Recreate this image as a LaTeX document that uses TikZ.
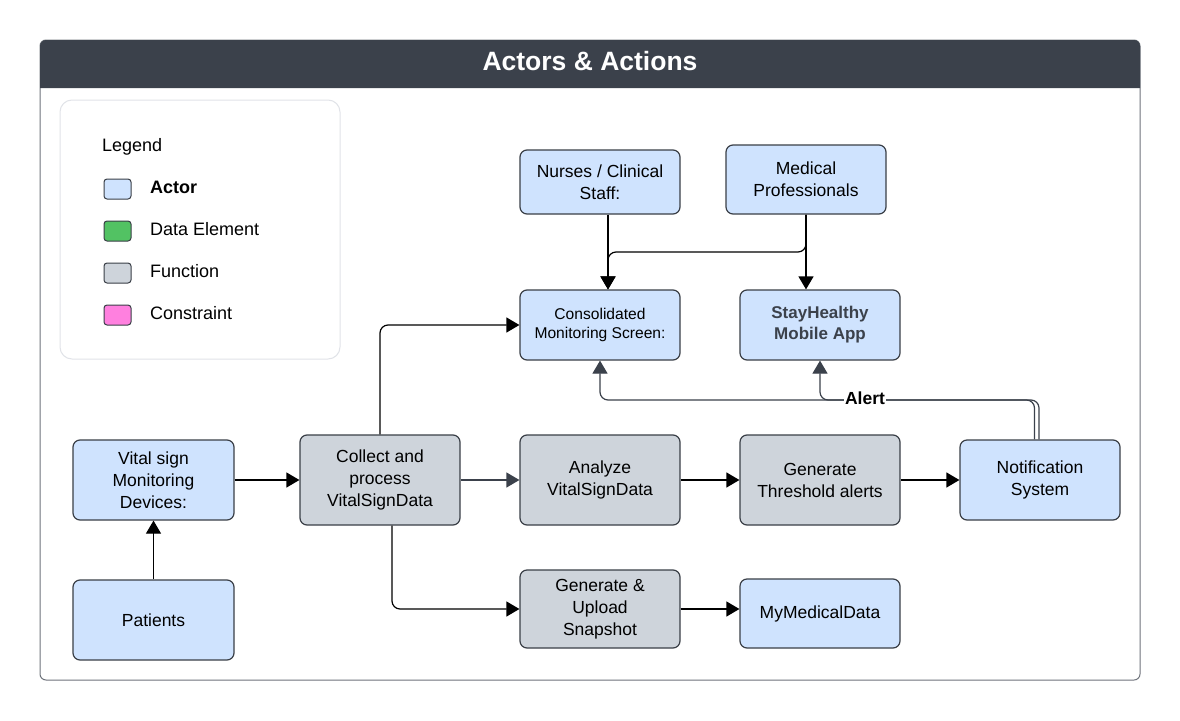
\documentclass[tikz,border=0pt]{standalone}
\usepackage{fontspec}
\setmainfont{Liberation Sans}
\usetikzlibrary{arrows.meta,calc}
\definecolor{hdr}{HTML}{3B414B}
\definecolor{frame}{HTML}{6E737B}
\definecolor{edge}{HTML}{3A3F47}
\definecolor{actorfill}{HTML}{CFE3FE}
\definecolor{funcfill}{HTML}{CED4DB}
\definecolor{datafill}{HTML}{52C263}
\definecolor{consfill}{HTML}{FF80DF}
\definecolor{legedge}{HTML}{E1E3E8}
\begin{document}
\begin{tikzpicture}[x=1pt,y=-1pt,
  box/.style={draw=edge, line width=1.2pt, rounded corners=7pt, align=center, inner sep=0pt,
    font=\fontsize{17.5}{22}\selectfont, text=black},
  actor/.style={box, fill=actorfill},
  func/.style={box, fill=funcfill},
  swatch/.style={draw=edge, line width=1pt, rounded corners=3pt, minimum width=27pt, minimum height=20pt, inner sep=0pt},
  legtext/.style={anchor=west, font=\fontsize{18}{22}\selectfont, inner sep=0pt},
  conn/.style={draw=black, line width=1.2pt, -{Triangle[length=13pt,width=15pt]}, rounded corners=8pt},
  gconn/.style={conn, draw=hdr}]
\useasboundingbox (0,0) rectangle (1180,720);
% frame and header
\draw[frame, line width=1pt, fill=white, rounded corners=6pt] (40,40) rectangle (1140,680);
\fill[hdr] (40,88) [rounded corners=6pt] -- (40,40) -- (1140,40) [sharp corners] -- (1140,88) -- cycle;
\node[text=white, font=\fontsize{26.5}{30}\bfseries] (title) at (590,61) {Actors \& Actions};
% legend
\node[draw=legedge, line width=1pt, rounded corners=12pt, minimum width=280pt, minimum height=259pt, inner sep=0pt] (legend) at (200,229.5) {};
\node[legtext] (legtitle) at (102,146.5) {Legend};
\node[swatch, fill=actorfill] (s1) at (117.5,189) {};
\node[swatch, fill=datafill] (s2) at (117.5,231) {};
\node[swatch, fill=funcfill] (s3) at (117.5,273) {};
\node[swatch, fill=consfill] (s4) at (117.5,315) {};
\node[legtext, font=\fontsize{18}{22}\bfseries] (l1) at (150,187.5) {Actor};
\node[legtext] (l2) at (150,229.5) {Data Element};
\node[legtext] (l3) at (150,271.5) {Function};
\node[legtext] (l4) at (150,313.5) {Constraint};
% nodes
\node[actor, minimum width=160pt, minimum height=64pt] (nurses) at (600,182) {Nurses / Clinical\\Staff:};
\node[actor, minimum width=160pt, minimum height=69pt] (medpro) at (806,179.5) {Medical\\Professionals};
\node[actor, minimum width=160pt, minimum height=70pt, font=\fontsize{15.6}{19.5}\selectfont] (consol) at (600,325) {Consolidated\\Monitoring Screen:};
\node[actor, minimum width=160pt, minimum height=70pt, font=\fontsize{17}{21}\bfseries, text=hdr] (stay) at (820,325) {StayHealthy\\Mobile App};
\node[actor, minimum width=161pt, minimum height=80pt] (vital) at (153.5,480) {Vital sign\\Monitoring\\Devices:};
\node[actor, minimum width=161pt, minimum height=80pt] (patients) at (153.5,620) {Patients};
\node[func, minimum width=160pt, minimum height=90pt] (collect) at (380,480) {Collect and\\process\\VitalSignData};
\node[func, minimum width=160pt, minimum height=90pt] (analyze) at (600,480) {Analyze\\VitalSignData};
\node[func, minimum width=160pt, minimum height=90pt] (thresh) at (820,480) {Generate\\Threshold alerts};
\node[actor, minimum width=160pt, minimum height=80pt] (notif) at (1040,480) {Notification\\System};
\node[func, minimum width=160pt, minimum height=78pt] (snap) at (600,609) {Generate \&\\Upload\\Snapshot};
\node[actor, minimum width=160pt, minimum height=69pt] (mymed) at (820,613.5) {MyMedicalData};
% helper coordinates
\coordinate (nx) at ($(nurses.south)+(8,0)$);
\coordinate (mb) at (0,252);
\coordinate (ay) at (0,400);
\coordinate (cs) at ($(collect.south)+(12,0)$);
\coordinate (n1) at ($(notif.north)+(-5.5,0)$);
\coordinate (n2) at ($(notif.north)+(-1,0)$);
% connectors
\draw[conn] (nx) -- (nx |- consol.north);
\draw[conn] (medpro.south) -- (medpro.south |- mb) -- (nx |- mb) -- (nx |- consol.north);
\draw[conn] (medpro.south) -- (medpro.south |- stay.north);
\draw[conn] (patients.north) -- (vital.south);
\draw[conn] (vital.east) -- (collect.west);
\draw[gconn] (collect.east) -- (analyze.west);
\draw[conn] (analyze.east) -- (thresh.west);
\draw[conn] (thresh.east) -- (notif.west);
\draw[conn] (collect.north) |- (consol.west);
\draw[conn] (cs) |- (snap.west);
\draw[conn] (snap.east) -- (snap.east -| mymed.west);
\draw[gconn] (n1) -- (n1 |- ay) -- (consol.south |- ay) -- (consol.south);
\draw[gconn] (n2) -- (n2 |- ay) -- (stay.south |- ay) -- (stay.south);
\node[fill=white, inner sep=1pt, font=\fontsize{17.5}{20}\bfseries] (alert) at (865,398) {Alert};
\end{tikzpicture}
\end{document}
